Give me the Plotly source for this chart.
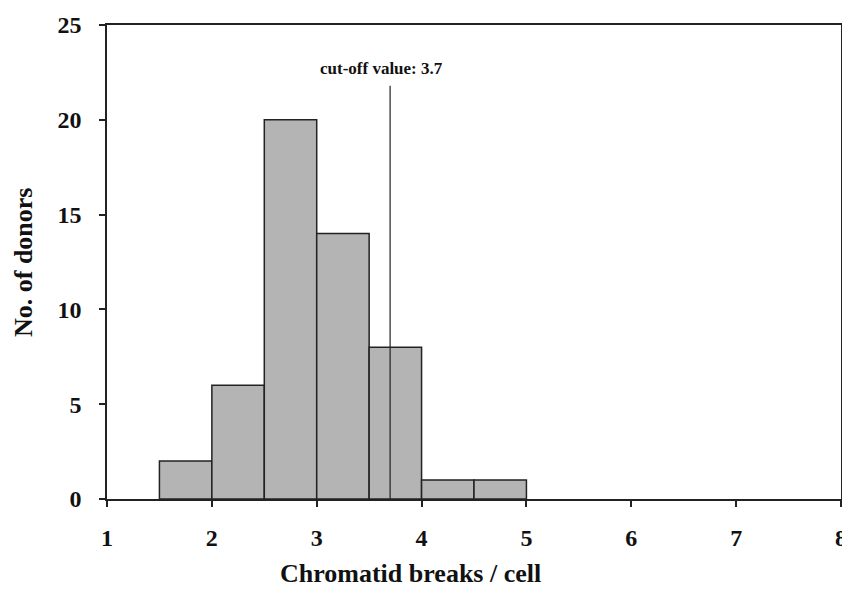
import plotly.graph_objects as go

bin_left = [1.5, 2.0, 2.5, 3.0, 3.5, 4.0, 4.5]
bin_width = 0.5
donors = [2, 6, 20, 14, 8, 1, 1]
cutoff = 3.7
cutoff_top = 21.8
x_ticks = [1, 2, 3, 4, 5, 6, 7, 8]
y_ticks = [0, 5, 10, 15, 20, 25]

font = "Liberation Serif, Times New Roman, serif"
tick_font = dict(family=font, size=24, color="#111111", weight="bold")
title_font = dict(family=font, size=26, color="#111111", weight="bold")

fig = go.Figure()
fig.add_trace(go.Bar(
    x=[b + bin_width / 2 for b in bin_left],
    y=donors,
    width=bin_width,
    marker=dict(color="#b4b4b4", line=dict(color="#222222", width=1.5)),
    hoverinfo="x+y",
))
fig.add_trace(go.Scatter(
    x=[cutoff, cutoff], y=[0, cutoff_top], mode="lines",
    line=dict(color="#222222", width=1.2), hoverinfo="skip",
))

fig.add_annotation(x=cutoff, y=cutoff_top, xref="x", yref="y", yshift=6, xshift=-9,
                   text="cut-off value: 3.7", showarrow=False,
                   font=dict(family=font, size=17, color="#111111", weight="bold"),
                   xanchor="center", yanchor="bottom")
fig.add_annotation(x=(410 - 107) / 734, y=-0.19, xref="paper", yref="paper",
                   text="Chromatid breaks / cell", showarrow=False,
                   font=title_font, xanchor="center", yanchor="bottom", borderpad=0)
fig.add_annotation(x=-0.1144, y=0.5, xref="paper", yref="paper",
                   text="No. of donors", showarrow=False, textangle=-90,
                   font=title_font, xanchor="center", yanchor="middle")

axis_common = dict(
    tickmode="array", ticks="outside", ticklen=6, tickwidth=1.5, tickcolor="#222",
    showline=True, linecolor="#222", linewidth=1.5, mirror=True,
    showgrid=False, zeroline=False, automargin=False, tickfont=tick_font,
    ticklabeloverflow="allow",
)

# page body adds an 8px offset; sizes compensate so the plot area lands at x 107-841, y 25-499
fig.update_layout(
    width=850, height=582,
    margin=dict(l=99, r=17, t=17, b=91, autoexpand=False),
    plot_bgcolor="white", paper_bgcolor="white",
    showlegend=False,
    font=dict(family=font, size=20, color="#111111"),
    xaxis=dict(range=[1, 8], tickvals=x_ticks, ticklabelstandoff=10, **axis_common),
    yaxis=dict(range=[0, 25], tickvals=y_ticks, ticklabelstandoff=13, **axis_common),
)

fig.write_html("out.html")
